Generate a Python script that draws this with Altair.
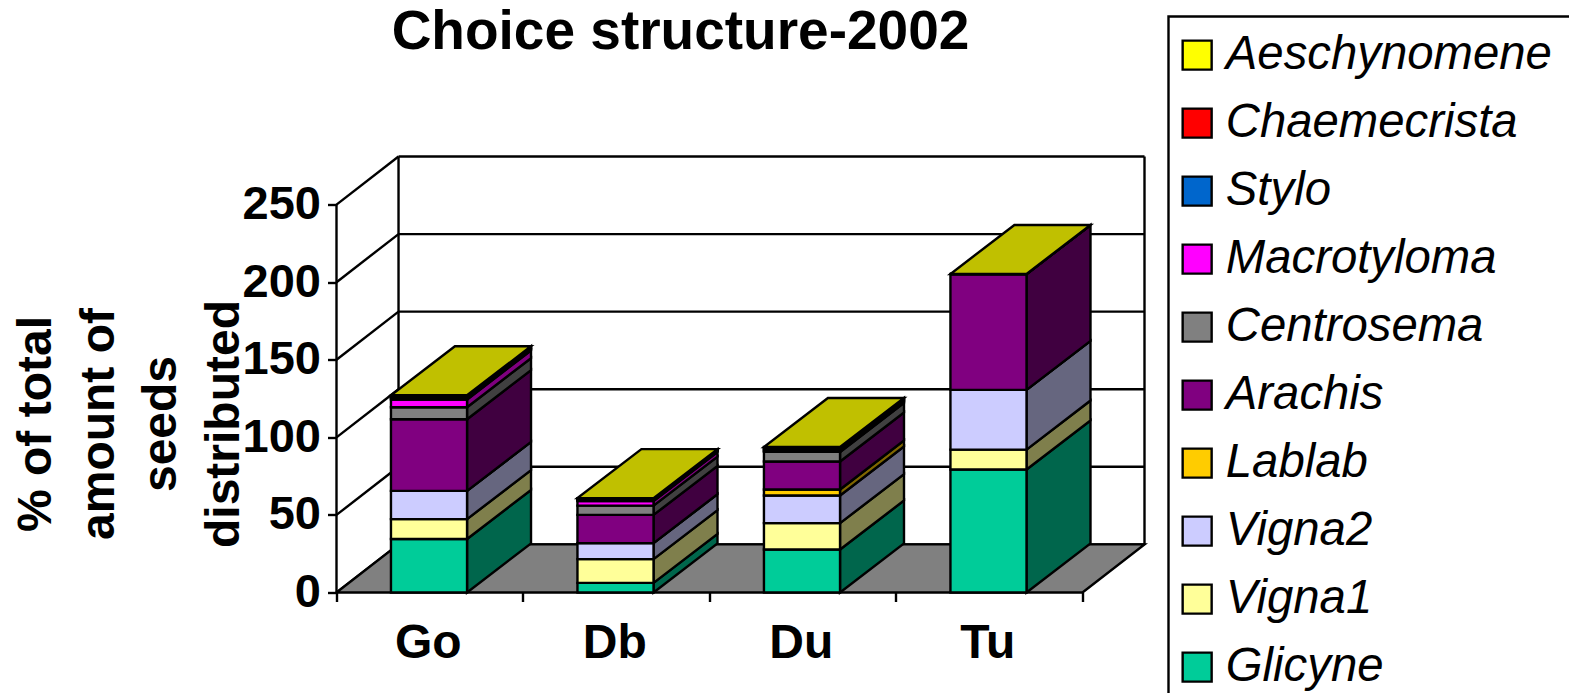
import altair as alt
import pandas as pd

# Seed shares per site, bottom of the stack first
sites = ["Go", "Db", "Du", "Tu"]
species = ["Glicyne", "Vigna1", "Vigna2", "Lablab", "Arachis",
           "Centrosema", "Macrotyloma", "Stylo", "Chaemecrista", "Aeschynomene"]
glicyne = [34.5, 6.2, 27.7, 79.3]
vigna1 = [12.8, 15.3, 17.0, 12.8]
vigna2 = [18.2, 10.3, 17.8, 38.5]
lablab = [0.0, 0.0, 3.9, 0.0]
arachis = [46.2, 18.2, 18.0, 74.7]
centrosema = [7.7, 6.0, 6.2, 0.0]
macrotyloma = [5.0, 3.0, 0.8, 0.0]
stylo = [0.7, 0.5, 0.8, 0.0]
chaemecrista = [0.7, 0.5, 0.8, 0.0]
aeschynomene = [1.3, 0.8, 0.8, 0.0]
series = [glicyne, vigna1, vigna2, lablab, arachis,
          centrosema, macrotyloma, stylo, chaemecrista, aeschynomene]
palette = ["#00CC99", "#FFFF99", "#CCCCFF", "#FFCC00", "#800080",
           "#808080", "#FF00FF", "#0066CC", "#FF0000", "#FFFF00"]
y_ticks = [0, 50, 100, 150, 200, 250]
x_ticks = [0, 1, 2, 3, 4]

# Oblique projection: depth is expressed as an offset in data units
WALL_DX, WALL_DY = 0.3326, 31.0
BAR_DX, BAR_DY = 0.343, 31.6
BAR_START, BAR_END = 0.292, 0.70
FONT = "Liberation Sans"
LW = 2.4


def shade(hex_colour, factor):
    rgb = [int(hex_colour[i:i + 2], 16) for i in (1, 3, 5)]
    return "#" + "".join(f"{int(c * factor):02X}" for c in rgb)


front_rows, side_rows, top_rows = [], [], []
for s, site in enumerate(sites):
    left, right = s + BAR_START, s + BAR_END
    base = 0.0
    for k, name in enumerate(species):
        top = base + series[k][s]
        front_rows.append(dict(species=name, x=left, x2=right, y=base, y2=top))
        for t in (0, 1):
            side_rows.append(dict(seg=f"{site}-{name}", fill=shade(palette[k], 0.5),
                                  x=right + t * BAR_DX,
                                  y=base + t * BAR_DY, y2=top + t * BAR_DY))
        base = top
    for t in (0, 1):
        top_rows.append(dict(seg=site, y=base + t * BAR_DY,
                             x=left + t * BAR_DX, x2=right + t * BAR_DX))

front = pd.DataFrame(front_rows)
side = pd.DataFrame(side_rows)
tops = pd.DataFrame(top_rows)
floor = pd.DataFrame([dict(y=t * WALL_DY, x=t * WALL_DX, x2=4 + t * WALL_DX) for t in (0, 1)])
side_wall = pd.DataFrame([dict(level=v, x=t * WALL_DX, y=v + t * WALL_DY)
                          for v in y_ticks for t in (0, 1)])
back_grid = pd.DataFrame([dict(y=v + WALL_DY, x=WALL_DX, x2=4 + WALL_DX) for v in y_ticks])
back_edges = pd.DataFrame([dict(x=v, y=WALL_DY, y2=250 + WALL_DY) for v in (WALL_DX, 4 + WALL_DX)])
front_edge = pd.DataFrame([dict(x=0, y=0, y2=250)])
labels = pd.DataFrame(dict(site=sites, x=[i + 0.492 for i in range(len(sites))]))

x_scale = alt.Scale(domain=[0, 4 + WALL_DX], nice=False, zero=False)
y_scale = alt.Scale(domain=[0, 250 + WALL_DY], nice=False, zero=False)
x_axis = alt.Axis(
    values=x_ticks, labels=False, title=None, domain=False, grid=False,
    tickColor="black", tickWidth=LW, tickSize=9)
y_axis = alt.Axis(
    values=y_ticks, title=["% of total", "amount of", "seeds", "distributed"],
    domain=False, grid=False, tickColor="black", tickWidth=LW, tickSize=9,
    labelFont=FONT, labelFontWeight="bold", labelFontSize=47, labelColor="black",
    labelPadding=7, titleFont=FONT, titleFontWeight="bold", titleFontSize=48,
    titleColor="black", titleLineHeight=62.5, titleAngle=270, titleAlign="center",
    titleBaseline="alphabetic", titleX=-286, titleY=267)
X = alt.X("x:Q", scale=x_scale, axis=x_axis, title=None)
Y = alt.Y("y:Q", scale=y_scale, axis=y_axis, stack=None,
          title=["% of total", "amount of", "seeds", "distributed"])

axes_layer = alt.Chart(front_edge).mark_rule(color="black", strokeWidth=LW).encode(
    x=X, y=Y, y2="y2:Q")

floor_layer = alt.Chart(floor).mark_area(
    orient="horizontal", fill="#808080", stroke="black", strokeWidth=LW
).encode(x=X, x2="x2:Q", y=Y)

grid_layer = alt.Chart(back_grid).mark_rule(color="black", strokeWidth=LW).encode(x=X, x2="x2:Q", y=Y)
edge_layer = alt.Chart(back_edges).mark_rule(color="black", strokeWidth=LW).encode(x=X, y=Y, y2="y2:Q")
wall_layer = alt.Chart(side_wall).mark_line(color="black", strokeWidth=LW).encode(
    x=X, y=Y, detail="level:N")

side_layer = alt.Chart(side).mark_area(
    orient="vertical", stroke="black", strokeWidth=LW
).encode(x=X, y=Y, y2="y2:Q", detail="seg:N", fill=alt.Fill("fill:N", scale=None))

front_layer = alt.Chart(front).mark_rect(stroke="black", strokeWidth=LW).encode(
    x=X, x2="x2:Q", y=Y, y2="y2:Q",
    fill=alt.Fill("species:N",
                  scale=alt.Scale(domain=species[::-1], range=palette[::-1]),
                  legend=alt.Legend(
                      orient="none", legendX=837, legendY=-125, title=None,
                      symbolType="square", symbolSize=841, symbolStrokeColor="black",
                      symbolStrokeWidth=LW, symbolOpacity=1, labelFont=FONT,
                      labelFontStyle="italic", labelFontSize=47.3, labelColor="black",
                      labelOffset=5, labelLimit=400, rowPadding=20, padding=0,
                      labelBaseline="middle")),
)

top_layer = alt.Chart(tops).mark_area(
    orient="horizontal", fill="#C0C000", stroke="black", strokeWidth=LW
).encode(x=X, x2="x2:Q", y=Y, detail="seg:N")

site_labels = alt.Chart(labels).mark_text(
    font=FONT, fontWeight="bold", fontSize=48, color="black", baseline="alphabetic"
).encode(x=X, y=alt.value(501), text="site:N")

# Legend frame; it runs past the right and bottom of the canvas
legend_frame = alt.Chart(front_edge).mark_rect(
    fill="white", fillOpacity=0, stroke="black", strokeWidth=LW
).encode(x=alt.value(832), x2=alt.value(1300), y=alt.value(-140), y2=alt.value(600))

chart = alt.layer(
    edge_layer, grid_layer, wall_layer, floor_layer, axes_layer,
    side_layer, front_layer, top_layer, site_labels, legend_frame,
).properties(
    width=808, height=436, background="white",
    padding={"left": 336.5, "top": 156.5, "right": 424.5, "bottom": 100.5},
    autosize=alt.AutoSizeParams(type="none"),
    title=alt.TitleParams(
        "Choice structure-2002", font=FONT, fontWeight="bold", fontSize=55, color="black",
        anchor="middle", dx=-60, dy=89, baseline="alphabetic", offset=0),
).configure_view(stroke=None)

chart.save("out.html", embed_options={"renderer": "svg", "actions": False})
